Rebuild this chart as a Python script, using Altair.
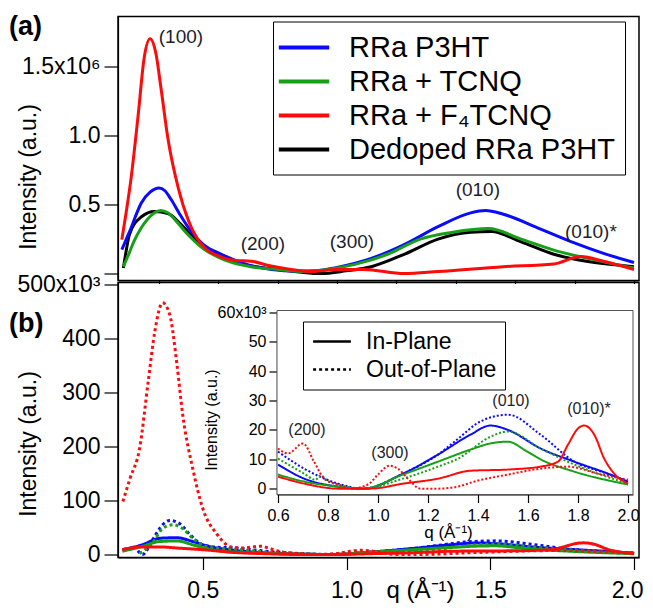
import altair as alt
import pandas as pd

FONT = "Liberation Sans"
TXT = "#1e1e2a"

# ---------------- Panel (a): intensity in units of 1e6 ----------------
q_a_rra = [0.275, 0.29, 0.306, 0.32, 0.34, 0.37, 0.40, 0.42, 0.44, 0.47, 0.51, 0.55, 0.61, 0.69, 0.78,
           0.86, 0.93, 1.0, 1.115, 1.226, 1.34, 1.45, 1.50, 1.56, 1.677, 1.79, 1.9, 2.0]
i_a_rra = [0.174, 0.25, 0.33, 0.41, 0.51, 0.59, 0.62, 0.60, 0.54, 0.43, 0.30, 0.21, 0.14, 0.07, 0.03,
           0.018, 0.02, 0.045, 0.11, 0.21, 0.34, 0.44, 0.457, 0.43, 0.33, 0.23, 0.145, 0.08]

q_a_tcnq = [0.28, 0.30, 0.315, 0.34, 0.36, 0.385, 0.405, 0.43, 0.45, 0.49, 0.55, 0.62, 0.71, 0.80, 0.89,
            0.95, 1.057, 1.17, 1.28, 1.39, 1.51, 1.62, 1.73, 1.845, 2.0]
i_a_tcnq = [0.05, 0.15, 0.23, 0.33, 0.39, 0.44, 0.457, 0.44, 0.40, 0.30, 0.18, 0.10, 0.05, 0.03, 0.015,
            0.025, 0.065, 0.14, 0.25, 0.30, 0.326, 0.25, 0.17, 0.11, 0.04]

q_a_f4 = [0.275, 0.29, 0.306, 0.33, 0.35, 0.37, 0.39, 0.407, 0.43, 0.465, 0.50, 0.54, 0.61, 0.66, 0.71,
          0.765, 0.845, 0.91, 1.0, 1.09, 1.226, 1.34, 1.56, 1.73, 1.82, 1.9, 2.0]
i_a_f4 = [0.246, 0.45, 0.69, 1.15, 1.56, 1.70, 1.59, 1.34, 0.98, 0.62, 0.38, 0.22, 0.12, 0.095, 0.09,
          0.06, 0.03, 0.015, 0.03, 0.03, 0.0, 0.015, 0.05, 0.07, 0.123, 0.087, 0.03]

q_a_dedoped = [0.28, 0.29, 0.30, 0.34, 0.385, 0.43, 0.475, 0.53, 0.60, 0.69, 0.80, 0.945, 1.03, 1.115,
               1.226, 1.34, 1.45, 1.52, 1.62, 1.73, 1.845, 2.0]
i_a_dedoped = [0.04, 0.17, 0.28, 0.41, 0.45, 0.435, 0.355, 0.23, 0.14, 0.065, 0.03, 0.0, 0.02, 0.05,
               0.14, 0.25, 0.30, 0.304, 0.23, 0.14, 0.087, 0.05]

# ---------------- Panel (b): intensity in units of 1e3 ----------------
q_b_rra_ip = [0.22, 0.29, 0.35, 0.41, 0.465, 0.52, 0.60, 0.705, 0.84, 0.94, 1.10, 1.24, 1.37, 1.45, 1.52,
              1.65, 1.785, 1.92, 2.0]
i_b_rra_ip = [9, 18, 30, 31, 24, 15, 8.2, 3.4, 0.7, 0, 5.1, 11.6, 18.4, 21.5, 20, 13.7, 9.2, 5.1, 2.4]

q_b_rra_oop = [0.274, 0.29, 0.326, 0.36, 0.385, 0.42, 0.455, 0.50, 0.56, 0.60, 0.705, 0.84, 0.94, 1.10,
               1.24, 1.32, 1.41, 1.52, 1.65, 1.785, 1.92, 2.0]
i_b_rra_oop = [7, 0, 28, 55, 63, 57, 37, 18, 13, 12.6, 6.8, 1.7, 0, 5.1, 11.6, 17, 22.9, 25.2, 18.4, 9.2,
               5, 2.4]

q_b_tcnq_ip = [0.22, 0.29, 0.35, 0.41, 0.465, 0.52, 0.56, 0.60, 0.705, 0.84, 0.94, 1.10, 1.24, 1.37, 1.45,
               1.52, 1.59, 1.65, 1.785, 2.0]
i_b_tcnq_ip = [6, 15, 24, 25, 18, 10, 6.5, 4.8, 2.4, 0.7, 0, 4.8, 9.2, 13.3, 15.4, 16, 13, 10, 5.8, 1.4]

q_b_tcnq_oop = [0.28, 0.326, 0.36, 0.396, 0.43, 0.465, 0.51, 0.56, 0.60, 0.705, 0.75, 0.77, 0.80, 0.84,
                0.94, 1.10, 1.24, 1.32, 1.45, 1.52, 1.65, 1.785, 2.0]
i_b_tcnq_oop = [2, 22, 48, 55, 48, 30, 15, 11, 10.2, 5.1, 3, 4.5, 2.5, 1.4, 0, 3.4, 7.5, 10.2, 17.7, 19.5,
                13.7, 8.2, 1.7]

q_b_f4_ip = [0.22, 0.29, 0.35, 0.41, 0.52, 0.60, 0.705, 0.84, 0.97, 1.10, 1.24, 1.37, 1.52, 1.65, 1.72,
             1.76, 1.80, 1.825, 1.865, 1.905, 1.945, 2.0]
i_b_f4_ip = [9, 14, 14, 12, 8, 4.1, 1.7, 0, 0, 1.7, 3.4, 6.1, 6.5, 7.5, 9.2, 15, 20.5, 21.5, 18.4, 10.2,
             5.1, 1.7]

q_b_f4_oop = [0.222, 0.247, 0.28, 0.31, 0.333, 0.36, 0.385, 0.41, 0.43, 0.465, 0.50, 0.55, 0.60, 0.64,
              0.70, 0.744, 0.785, 0.84, 0.89, 0.96, 1.0, 1.045, 1.08, 1.12, 1.17, 1.24, 1.32, 1.385,
              1.52, 1.65, 1.76, 1.88, 2.0]
i_b_f4_oop = [98, 141, 196, 320, 413, 466, 444, 352, 259, 159, 85, 37, 13.7, 12, 15.4, 9.2, 3.4, 1.4, 0,
              1.4, 4.8, 7.8, 6.8, 3.4, 0, 0, 0.7, 2.4, 4.8, 6.8, 7.5, 5.1, 3.0]

# ---------------- labels ----------------
SAMPLES = ["RRa P3HT", "RRa + TCNQ", "RRa + F\u2084TCNQ", "Dedoped RRa P3HT"]
COLORS = ["#0a0aff", "#17a017", "#ff0a0a", "#000000"]
ORIENTS = ["In-Plane", "Out-of-Plane"]

notes_a_text = ["(100)", "(200)", "(300)", "(010)", "(010)*"]
notes_a_q = [0.474, 0.75, 1.05, 1.474, 1.855]
notes_a_i = [1.717, 0.217, 0.232, 0.609, 0.304]

notes_in_text = ["(200)", "(300)", "(010)", "(010)*"]
notes_in_q = [0.716, 1.048, 1.532, 1.844]
notes_in_i = [20.1, 12.3, 29.7, 27.3]

top_xticks = [0.4, 0.6, 0.8, 1.0, 1.2, 1.4, 1.6, 1.8, 2.0]
top_yticks = [0, 0.5, 1.0, 1.5]
bot_xticks = [0.5, 1.0, 1.5, 2.0]
bot_yticks = [0, 100, 200, 300, 400, 500]
in_xticks = [0.6, 0.8, 1.0, 1.2, 1.4, 1.6, 1.8, 2.0]
in_yticks = [0, 10, 20, 30, 40, 50, 60]

TOP_XDOM = [0.262, 2.017]
TOP_YDOM = [-0.05, 1.862]
BOT_XDOM = [0.205, 2.017]
BOT_YDOM = [-5.6, 503.7]
IN_XDOM = [0.596, 2.02]
IN_YDOM = [-2.0, 60.7]

# horizontal line glyph for legend symbols (wider than tall)
LINE_GLYPH = "M-1.8,0L1.8,0"


def series(sample, q, i, orient=None):
    d = pd.DataFrame({"q": q, "I": i})
    d["sample"] = sample
    if orient is not None:
        d["orient"] = orient
    return d


top_df = pd.concat([
    series(SAMPLES[3], q_a_dedoped, i_a_dedoped),
    series(SAMPLES[0], q_a_rra, i_a_rra),
    series(SAMPLES[1], q_a_tcnq, i_a_tcnq),
    series(SAMPLES[2], q_a_f4, i_a_f4),
], ignore_index=True)

bot_df = pd.concat([
    series(SAMPLES[0], q_b_rra_ip, i_b_rra_ip, ORIENTS[0]),
    series(SAMPLES[0], q_b_rra_oop, i_b_rra_oop, ORIENTS[1]),
    series(SAMPLES[1], q_b_tcnq_ip, i_b_tcnq_ip, ORIENTS[0]),
    series(SAMPLES[1], q_b_tcnq_oop, i_b_tcnq_oop, ORIENTS[1]),
    series(SAMPLES[2], q_b_f4_ip, i_b_f4_ip, ORIENTS[0]),
    series(SAMPLES[2], q_b_f4_oop, i_b_f4_oop, ORIENTS[1]),
], ignore_index=True)
inset_df = bot_df[bot_df["q"] >= 0.6].reset_index(drop=True)

color_scale = alt.Scale(domain=SAMPLES, range=COLORS)

# ---------------- top panel ----------------
top_x = alt.X("q:Q", scale=alt.Scale(domain=TOP_XDOM, nice=False, zero=False),
              axis=alt.Axis(values=top_xticks, labels=False, tickSize=3, title=None))
top_y = alt.Y("I:Q", scale=alt.Scale(domain=TOP_YDOM, nice=False, zero=False),
              axis=alt.Axis(values=top_yticks,
                            labelExpr="datum.value == 1.5 ? '1.5x10\u2076' : (datum.value == 0 ? '' : format(datum.value, '.1f'))",
                            tickSize=14, labelPadding=4, labelFontSize=23,
                            title="Intensity (a.u.)", titleFontSize=23,
                            titleX=-78, titleY=160, titleBaseline="bottom"))

top_lines = alt.Chart(top_df).mark_line(strokeWidth=3, interpolate="monotone").encode(
    x=top_x, y=top_y,
    color=alt.Color("sample:N", scale=color_scale,
                    legend=alt.Legend(title=None, orient="none", legendX=155, legendY=5,
                                      symbolType=LINE_GLYPH, symbolSize=784, symbolStrokeWidth=4,
                                      symbolOffset=5,
                                      labelFontSize=29, labelFont=FONT, labelColor="black",
                                      strokeColor="black", fillColor="white", padding=10,
                                      rowPadding=3, labelOffset=29, labelLimit=400)),
)

notes_a = alt.Chart(pd.DataFrame({"t": notes_a_text, "q": notes_a_q, "I": notes_a_i})).mark_text(
    font=FONT, fontSize=19, color=TXT, align="center", baseline="middle").encode(
    x=top_x, y=top_y, text="t:N")

letter_a = alt.Chart(pd.DataFrame({"t": ["(a)"]})).mark_text(
    font=FONT, fontSize=27, fontWeight="bold", align="left", baseline="middle", color="black").encode(
    x=alt.value(-109), y=alt.value(10), text="t:N")

top = alt.layer(top_lines, notes_a, letter_a).properties(width=521, height=264)

# ---------------- bottom panel ----------------
bot_x = alt.X("q:Q", scale=alt.Scale(domain=BOT_XDOM, nice=False, zero=False),
              axis=alt.Axis(values=bot_xticks, labelExpr="format(datum.value, '.1f')",
                            tickSize=12, labelPadding=10, labelFontSize=23, labelFlush=False,
                            labelAlign={"condition": {"test": "datum.value == 2", "value": "right"},
                                        "value": "center"},
                            labelOffset={"condition": {"test": "datum.value == 2", "value": 9},
                                         "value": 0},
                            title="q (\u00c5\u207b\u00b9)", titleFontSize=24,
                            titleX=302, titleY=40, titleBaseline="alphabetic"))
bot_y = alt.Y("I:Q", scale=alt.Scale(domain=BOT_YDOM, nice=False, zero=False),
              axis=alt.Axis(values=bot_yticks,
                            labelExpr="datum.value == 500 ? '500x10\u00b3' : datum.label",
                            tickSize=14, labelPadding=4, labelFontSize=23,
                            title="Intensity (a.u.)", titleFontSize=23,
                            titleX=-78, titleY=161, titleBaseline="bottom"))

dash_legend = alt.Legend(title=None, orient="none", legendX=185, legendY=39,
                         symbolType=LINE_GLYPH, symbolSize=441, symbolStrokeWidth=2.5,
                         symbolOffset=9, symbolStrokeColor="black",
                         labelFontSize=23, labelFont=FONT,
                         labelColor="black", strokeColor="black", fillColor="white",
                         padding=8, rowPadding=4, labelOffset=22, labelLimit=400)

main_lines = alt.Chart(bot_df).mark_line(strokeWidth=3, interpolate="monotone").encode(
    x=bot_x, y=bot_y,
    color=alt.Color("sample:N", scale=color_scale, legend=None),
    strokeDash=alt.StrokeDash("orient:N", scale=alt.Scale(domain=ORIENTS, range=[[1, 0], [3, 3]]),
                              legend=dash_legend),
)

letter_b = alt.Chart(pd.DataFrame({"t": ["(b)"]})).mark_text(
    font=FONT, fontSize=27, fontWeight="bold", align="left", baseline="middle", color="black").encode(
    x=alt.value(-109), y=alt.value(41), text="t:N")

main_group = alt.layer(main_lines, letter_b)

# ---------------- inset ----------------
in_x = alt.X("q:Q", scale=alt.Scale(domain=IN_XDOM, range=[159, 515], nice=False, zero=False),
             axis=alt.Axis(orient="bottom", offset=-63, values=in_xticks,
                           labelExpr="format(datum.value, '.1f')", tickSize=8, labelPadding=5,
                           labelFontSize=16, labelFlush=False, title="q (\u00c5\u207b\u00b9)",
                           titleFontSize=17, titleX=330, titleY=30, titleBaseline="top"))
in_y = alt.Y("I:Q", scale=alt.Scale(domain=IN_YDOM, range=[212, 28], nice=False, zero=False),
             axis=alt.Axis(orient="left", offset=-159, values=in_yticks,
                           labelExpr="datum.value == 60 ? '60x10\u00b3' : datum.label",
                           tickSize=8, labelPadding=3, labelFontSize=16,
                           title="Intensity (a.u.)", titleFontSize=16,
                           titleX=-58, titleY=137, titleBaseline="bottom"))

inset_box = alt.Chart(pd.DataFrame({"q": [IN_XDOM[0]], "q2": [IN_XDOM[1]],
                                    "I": [IN_YDOM[0]], "I2": [IN_YDOM[1]]})).mark_rect(
    fill="white", stroke="#555555", strokeWidth=1).encode(
    x=in_x, x2="q2:Q", y=in_y, y2="I2:Q")

inset_lines = alt.Chart(inset_df).mark_line(strokeWidth=2, interpolate="monotone").encode(
    x=in_x, y=in_y,
    color=alt.Color("sample:N", scale=color_scale, legend=None),
    strokeDash=alt.StrokeDash("orient:N", scale=alt.Scale(domain=ORIENTS, range=[[1, 0], [2, 2]]),
                              legend=None),
)

notes_in = alt.Chart(pd.DataFrame({"t": notes_in_text, "q": notes_in_q, "I": notes_in_i})).mark_text(
    font=FONT, fontSize=16, color=TXT, align="center", baseline="middle").encode(
    x=in_x, y=in_y, text="t:N")

inset_group = alt.layer(inset_box, inset_lines, notes_in)

bottom = alt.layer(main_group, inset_group).resolve_scale(
    x="independent", y="independent", strokeDash="independent"
).resolve_legend(strokeDash="independent").properties(width=521, height=275)

chart = alt.vconcat(top, bottom, spacing=2, bounds="flush").resolve_scale(
    x="independent", y="independent", color="independent"
).resolve_legend(color="independent").properties(
    padding={"left": 0, "top": 3.5, "right": 0, "bottom": 0},
    background="white",
).configure_axis(
    grid=False, domainColor="black", tickColor="black", labelColor="black", titleColor="black",
    labelFont=FONT, titleFont=FONT, titleFontWeight="normal", zindex=1, domainWidth=1.2, tickWidth=1.2,
).configure_view(stroke="black", strokeWidth=1.5).configure_legend(labelFont=FONT)

chart.save("out.html", embed_options={"renderer": "svg", "actions": False})
